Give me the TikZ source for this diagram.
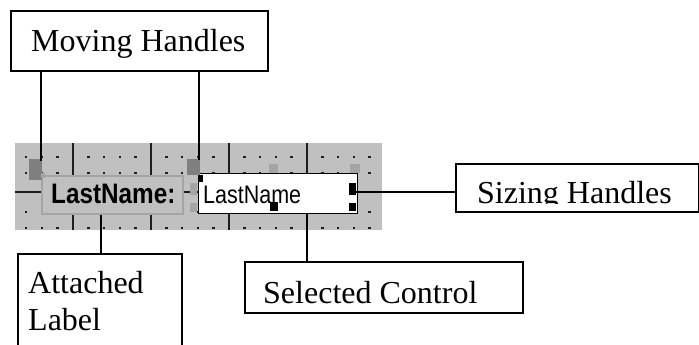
\documentclass[tikz,border=0pt]{standalone}
\usepackage{fontspec}
\newfontfamily\tnr{Liberation Serif}
\newfontfamily\ssf{Liberation Sans}
\definecolor{panel}{HTML}{C0C0C0}
\definecolor{darkh}{HTML}{7F7F7F}
\definecolor{lighth}{HTML}{A4A4A4}
\definecolor{gridc}{HTML}{1E1E1E}
\tikzset{
  callout/.style={draw=black, line width=2pt, fill=white, inner sep=0pt, rectangle},
  calltext/.style={inner sep=0pt, anchor=base west, font=\tnr\fontsize{32}{37}\selectfont},
  conn/.style={draw=black, line width=2pt},
  gridline/.style={draw=gridc, line width=2.2pt},
  darkhandle/.style={fill=darkh, rectangle, inner sep=0pt, anchor=north west},
  lighthandle/.style={fill=lighth, rectangle, inner sep=0pt, anchor=north west},
  blackhandle/.style={fill=black, rectangle, inner sep=0pt, anchor=north west},
}
\begin{document}
\begin{tikzpicture}[x=1pt, y=-1pt]
\useasboundingbox (0,0) rectangle (699,345);
\clip (0,0) rectangle (699,345);

% form designer panel
\fill[panel] (15,143) rectangle (382,230);
\foreach \gx in {73,151,229,307} {\draw[gridline] (\gx,143) -- (\gx,230);}
\draw[gridline] (15,192) -- (382,192);
\foreach \k in {-3,...,19} {
  \pgfmathtruncatemacro{\m}{mod(\k+100,5)}
  \ifnum\m=0\relax\else
    \foreach \gy in {157,173,212,228} {
      \fill[gridc] ({73+15.6*\k-1.2},{\gy-1.2}) rectangle ++(2.4,2.4);
    }
  \fi
}

% attached label control
\node[draw=lighth, line width=1.5pt, fill=panel, inner sep=0pt, minimum width=141, minimum height=38, anchor=north west] (lc) at (41,175) {};
\node[inner sep=0pt, anchor=base west] (lctext) at (51,203) {\ssf\bfseries\fontsize{24.3}{28}\selectfont\scalebox{1}[1.16]{LastName:}};

% selected text box control
\node[draw=black, line width=1pt, fill=white, inner sep=0pt, minimum width=159, minimum height=40, anchor=north west] (tb) at (198,173) {};
\node[inner sep=0pt, anchor=base west] (tbtext) at (203,203) {\ssf\fontsize{21.5}{25}\selectfont\scalebox{1}[1.18]{LastName}};

% moving handles
\node[darkhandle, minimum width=13, minimum height=21] (mh1) at (29,159) {};
\node[darkhandle, minimum width=13, minimum height=16] (mh2) at (187,159) {};
\node[lighthandle, minimum width=4, minimum height=5] (lh0) at (41,173) {};
% light (inactive) sizing handles
\node[lighthandle, minimum width=9, minimum height=9] (lh1) at (269,164) {};
\node[lighthandle, minimum width=10, minimum height=9] (lh2) at (350,164) {};
\node[lighthandle, minimum width=7, minimum height=12] (lh3) at (190,183) {};
\node[lighthandle, minimum width=7, minimum height=9] (lh4) at (190,203) {};
% black sizing handles
\node[blackhandle, minimum width=8, minimum height=9] (sh1) at (270,202) {};
\node[blackhandle, minimum width=7, minimum height=12] (sh2) at (349,183) {};
\node[blackhandle, minimum width=7, minimum height=8] (sh3) at (349,203) {};
\node[blackhandle, minimum width=5, minimum height=7] (sh4) at (198,175) {};

% callout boxes
\node[callout, minimum width=257, minimum height=60, anchor=north west] (mvb) at (10,10) {};
\node[calltext] (mvt) at (31,52) {Moving Handles};

\node[callout, minimum width=164, minimum height=110, anchor=north west] (alb) at (17,253) {};
\node[calltext] (alt1) at (28,293) {Attached};
\node[calltext] (alt2) at (28,330) {Label};

\node[callout, minimum width=278, minimum height=51, anchor=north west] (scb) at (244,261) {};
\node[calltext] (sct) at (263,303) {Selected Control};

\node[callout, minimum width=243, minimum height=48, anchor=north west] (shb) at (455,163) {};
\begin{scope}
\clip (455,163) rectangle (699,203.5);
\node[calltext] (sht) at (477,203) {Sizing Handles};
\end{scope}

% connectors
\coordinate (c1) at (41,161);
\coordinate (c2) at (199,160);
\coordinate (c3) at (101,253);
\coordinate (c4) at (307,261);
\coordinate (c5) at (356,192);
\draw[conn] (mvb.south -| c1) -- (c1);
\draw[conn] (mvb.south -| c2) -- (c2);
\draw[conn] (lc.south -| c3) -- (c3);
\draw[conn] (tb.south -| c4) -- (c4);
\draw[conn] (c5) -- (shb.west |- c5);
\end{tikzpicture}
\end{document}
